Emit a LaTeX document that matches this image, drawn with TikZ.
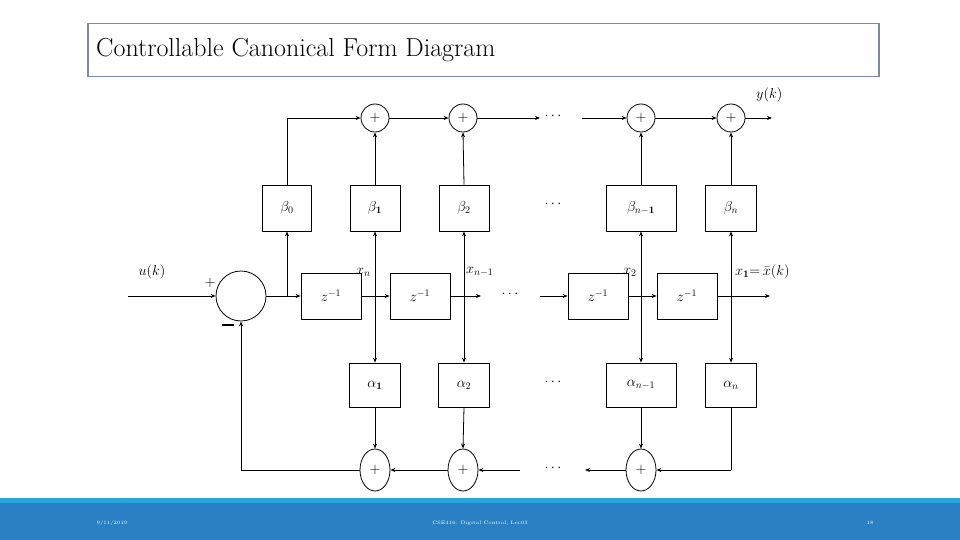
\documentclass[tikz,border=0pt]{standalone}
\usetikzlibrary{arrows.meta,shapes.geometric}
\definecolor{titlebd}{HTML}{7A8AA8}
\definecolor{footdk}{HTML}{2A80C2}
\definecolor{footlt}{HTML}{2AA6DE}
\begin{document}
\begin{tikzpicture}[x=1pt,y=-1pt,
  blk/.style={draw,thick,minimum height=46pt,inner sep=0pt},
  sumt/.style={draw,thick,circle,minimum size=28pt,inner sep=0pt},
  sumb/.style={draw,thick,ellipse,minimum width=30pt,minimum height=42pt,inner sep=0pt},
  ar/.style={thick,-{Stealth[length=5pt,width=4pt]}},
  ln/.style={thick},
  lbl/.style={inner sep=0pt,font=\Large}]
\useasboundingbox (0,0) rectangle (960,540);
% title
\node[draw=titlebd,line width=1.5pt,minimum width=791pt,minimum height=53pt,anchor=north west,inner sep=0pt] (tbox) at (87,23) {};
\node[anchor=west,inner sep=0pt,font=\fontsize{26}{30}\selectfont] (title) at (96,50) {Controllable Canonical Form Diagram};
% footer
\fill[footlt] (0,498) rectangle (960,503);
\fill[footdk] (0,503) rectangle (960,540);
\node[text=white,font=\tiny] (fd) at (112,523) {9/11/2019};
\node[text=white,font=\tiny] (fc) at (480,523) {CSE416: Digital Control, Lec03};
\node[text=white,font=\tiny] (fp) at (870,523) {18};
% top adders
\node[sumt] (t1) at (375,118) {\Large$+$};
\node[sumt] (t2) at (463,118) {\Large$+$};
\node[sumt] (t3) at (641,118) {\Large$+$};
\node[sumt] (t4) at (731,118) {\Large$+$};
\node[lbl] (tdots) at (553,116) {$\cdots$};
\coordinate (tdl) at (540,118);
\coordinate (tdr) at (582,118);
% beta
\node[blk,minimum width=49pt] (b0) at (287,208) {\Large$\beta_0$};
\node[blk,minimum width=50pt] (b1) at (375,208) {\Large$\beta_{\mathbf 1}$};
\node[blk,minimum width=50pt] (b2) at (464,208) {\Large$\beta_2$};
\node[blk,minimum width=70pt] (bn1) at (641,208) {\Large$\beta_{n-\mathbf 1}$};
\node[blk,minimum width=51pt] (bn) at (731,208) {\Large$\beta_n$};
\node[lbl] (bdots) at (553,204) {$\cdots$};
% z boxes
\node[blk,minimum width=60pt] (z1) at (331,296) {\Large$z^{-1}$};
\node[blk,minimum width=60pt] (z2) at (420,296) {\Large$z^{-1}$};
\node[blk,minimum width=60pt] (z3) at (598,296) {\Large$z^{-1}$};
\node[blk,minimum width=60pt] (z4) at (687,296) {\Large$z^{-1}$};
\node[lbl] (zdots) at (510,294) {$\cdots$};
% sum circle
\node[draw,thick,circle,minimum size=50pt,inner sep=0pt] (s) at (241,296) {};
\node[lbl] (u) at (152,272) {$u(k)$};
\node[lbl] (plus) at (210,283) {$+$};
\node[lbl] (minus) at (228,326) {\rule[0.3ex]{0.8em}{2pt}};
\coordinate (uin) at (128,296);
% alpha
\node[blk,minimum width=51pt,minimum height=44pt] (a1) at (375,385) {\Large$\alpha_{\mathbf 1}$};
\node[blk,minimum width=51pt,minimum height=44pt] (a2) at (464,385) {\Large$\alpha_2$};
\node[blk,minimum width=70pt,minimum height=44pt] (an1) at (641,385) {\Large$\alpha_{n-1}$};
\node[blk,minimum width=51pt,minimum height=44pt] (an) at (731,385) {\Large$\alpha_n$};
\node[lbl] (adots) at (553,382) {$\cdots$};
% bottom adders
\node[sumb] (d1) at (375,470) {\Large$+$};
\node[sumb] (d2) at (463,470) {\Large$+$};
\node[sumb] (d3) at (641,470) {\Large$+$};
\node[lbl] (ddots) at (553,468) {$\cdots$};
% labels
\node[lbl,anchor=west] (xn) at (356,272) {$x_n$};
\node[lbl,anchor=west] (xn1) at (466,272) {$x_{n-1}$};
\node[lbl,anchor=west] (x2) at (623,272) {$x_2$};
\node[lbl,anchor=west] (x1) at (735,272) {$x_{\mathbf 1}{=}\,\bar x(k)$};
\node[lbl,anchor=west] (yk) at (756,95) {$y(k)$};
% coordinates
\coordinate (j0) at (287,296);
\coordinate (j1) at (375,296);
\coordinate (j2) at (464,296);
\coordinate (j3) at (641,296);
\coordinate (j4) at (731,296);
\coordinate (zo2) at (481,296);
\coordinate (zi3) at (540,296);
\coordinate (xout) at (770,296);
\coordinate (yout) at (772,118);
\coordinate (tl) at (287,118);
\coordinate (br) at (731,470);
\coordinate (bl) at (241,470);
\coordinate (bdl) at (520,470);
\coordinate (bdr) at (585,470);
% forward path
\draw[ar] (uin) -- (s.west);
\draw[ar] (s.east) -- (z1.west);
\draw[ar] (z1.east) -- (z2.west);
\draw[ar] (z2.east) -- (zo2);
\draw[ar] (zi3) -- (z3.west);
\draw[ar] (z3.east) -- (z4.west);
\draw[ar] (z4.east) -- (xout);
% beta branches
\draw[ar] (j0) -- (b0.south);
\draw[ln] (b0.north) -- (tl);
\draw[ar] (tl) -- (t1.west);
\draw[ar] (t1.east) -- (t2.west);
\draw[ar] (t2.east) -- (tdl);
\draw[ar] (tdr) -- (t3.west);
\draw[ar] (t3.east) -- (t4.west);
\draw[ar] (t4.east) -- (yout);
\foreach \j/\b/\t in {j1/b1/t1,j2/b2/t2,j3/bn1/t3,j4/bn/t4}{
  \draw[ar] (\j) -- (\b.south);
  \draw[ar] (\b.north) -- (\t.south);}
\foreach \j/\a in {j1/a1,j2/a2,j3/an1,j4/an}{
  \draw[ar] (\j) -- (\a.north);}
\foreach \a/\d in {a1/d1,a2/d2,an1/d3}{
  \draw[ar] (\a.south) -- (\d.north);}
% bottom feedback
\draw[ln] (an.south) -- (br);
\draw[ar] (br) -- (d3.east);
\draw[ar] (d3.west) -- (bdr);
\draw[ar] (bdl) -- (d2.east);
\draw[ar] (d2.west) -- (d1.east);
\draw[ln] (d1.west) -- (bl);
\draw[ar] (bl) -- (s.south);
\end{tikzpicture}
\end{document}
